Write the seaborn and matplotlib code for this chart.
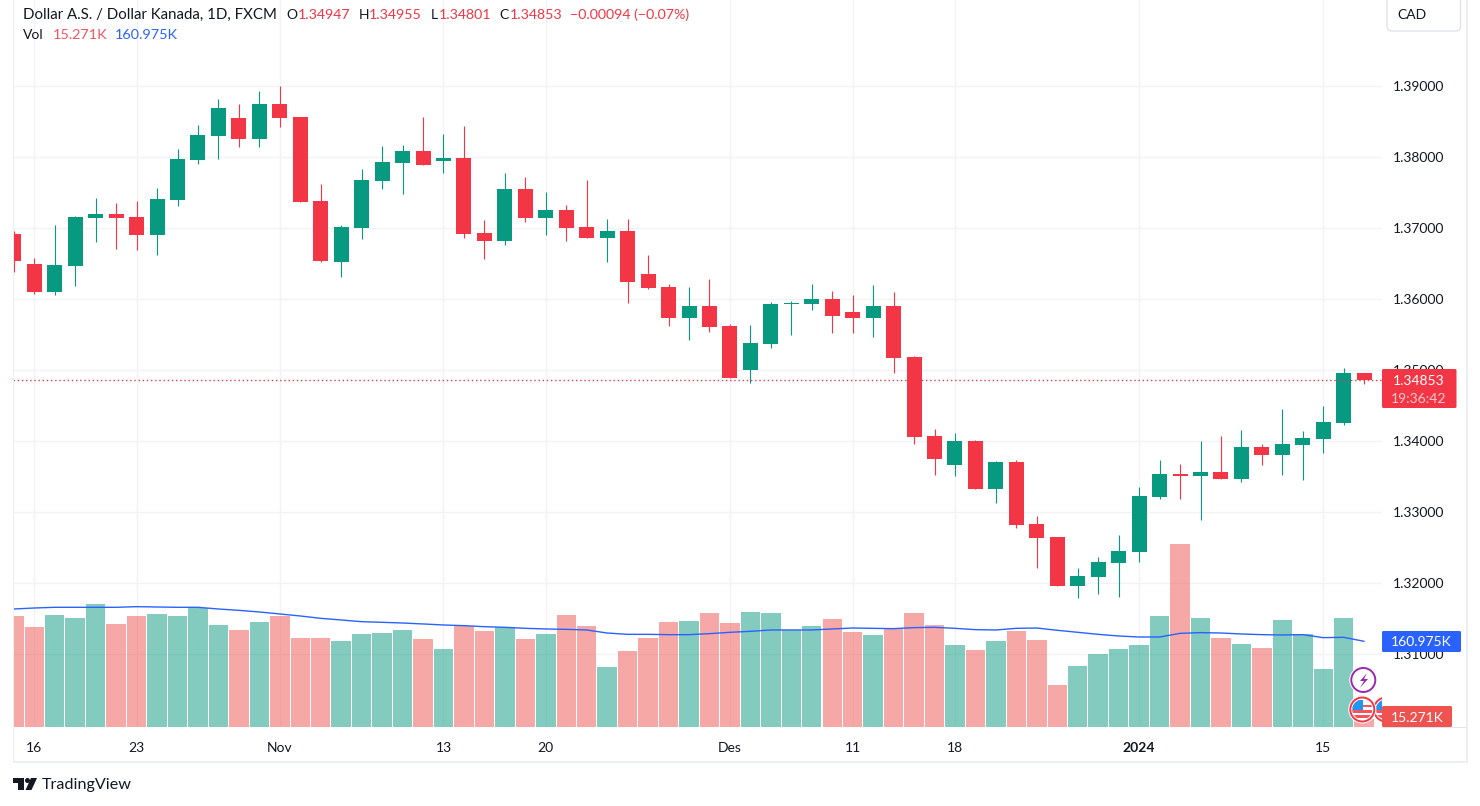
import matplotlib
matplotlib.use("Agg")
import matplotlib.pyplot as plt
from matplotlib.patches import Circle, FancyBboxPatch, Polygon, Rectangle
import pandas as pd
import seaborn as sns

# candles
opens = [1.36911,1.36488,1.36094,1.36460,1.37136,1.37192,1.37150,1.36897,1.37390,1.37953,1.38291,1.38545,1.38249,1.38742,1.38559,1.37376,
         1.36516,1.36995,1.37657,1.37911,1.38080,1.37939,1.37981,1.36925,1.36812,1.37545,1.37136,1.37249,1.37009,1.36854,1.36953,1.36347,
         1.36163,1.35727,1.35892,1.35610,1.34991,1.35357,1.35920,1.35920,1.35991,1.35808,1.35723,1.35892,1.35174,1.34061,1.33653,1.33991,
         1.33314,1.33695,1.32821,1.32638,1.31948,1.32075,1.32272,1.32427,1.33202,1.33526,1.33498,1.33554,1.33455,1.33906,1.33793,1.33934,
         1.34019,1.34244,1.34947]
highs = [1.36953,1.36573,1.37038,1.37164,1.37418,1.37347,1.37376,1.37559,1.38108,1.38446,1.38812,1.38742,1.38925,1.38995,1.38559,1.37615,
         1.37038,1.37826,1.38150,1.38164,1.38559,1.38319,1.38432,1.37108,1.37770,1.37714,1.37502,1.37319,1.37671,1.37122,1.37122,1.36614,
         1.36206,1.36163,1.36272,1.35638,1.35624,1.35948,1.35962,1.36202,1.36103,1.36047,1.36188,1.36089,1.35188,1.34160,1.34103,1.34005,
         1.33709,1.33723,1.32934,1.32638,1.32202,1.32357,1.32667,1.33343,1.33723,1.33667,1.33991,1.34061,1.34145,1.33948,1.34441,1.34131,
         1.34484,1.35019,1.34955]
lows = [1.36380,1.36070,1.36056,1.36178,1.36798,1.36700,1.36685,1.36615,1.37305,1.37897,1.37967,1.38136,1.38136,1.38418,1.37361,1.36516,
        1.36305,1.36840,1.37545,1.37474,1.37883,1.37770,1.36854,1.36559,1.36756,1.37080,1.36897,1.36812,1.36854,1.36516,1.35942,1.36135,
        1.35614,1.35417,1.35526,1.34878,1.34807,1.35300,1.35484,1.35836,1.35512,1.35512,1.35455,1.34948,1.33948,1.33512,1.33498,1.33314,
        1.33117,1.32765,1.32202,1.31948,1.31779,1.31836,1.31793,1.32286,1.33174,1.33174,1.32878,1.33455,1.33413,1.33653,1.33512,1.33441,
        1.33822,1.34216,1.34801]
closes = [1.36535,1.36094,1.36474,1.37150,1.37192,1.37136,1.36897,1.37404,1.37967,1.38305,1.38685,1.38249,1.38742,1.38545,1.37361,1.36530,
          1.37009,1.37671,1.37925,1.38080,1.37883,1.37981,1.36911,1.36812,1.37545,1.37136,1.37249,1.36995,1.36854,1.36953,1.36234,1.36149,
          1.35727,1.35896,1.35596,1.34878,1.35371,1.35920,1.35934,1.35991,1.35751,1.35723,1.35892,1.35160,1.34047,1.33737,1.33991,1.33314,
          1.33695,1.32807,1.32624,1.31948,1.32089,1.32286,1.32441,1.33216,1.33526,1.33498,1.33554,1.33455,1.33906,1.33793,1.33948,1.34033,
          1.34258,1.34948,1.34853]

# volume in thousands
volumes = [208.6,187.9,210.5,204.8,231.1,193.6,208.6,212.4,208.6,223.6,191.7,182.3,197.3,208.6,167.2,167.2,161.6,174.8,176.6,182.3,165.4,146.6,
           189.8,180.4,187.9,165.4,174.8,210.5,189.8,112.8,142.8,167.2,197.3,199.2,214.2,195.4,216.1,214.2,182.3,189.8,203.0,178.5,172.9,184.2,
           214.2,191.7,154.1,144.7,161.6,180.4,163.5,78.9,114.6,137.2,146.6,154.1,208.6,343.9,204.8,167.2,156.0,148.5,201.1,174.8,109.0,204.8,15.271]
vol_ma = [221.7,223.6,224.9,224.9,224.9,224.9,226.1,225.5,224.9,224.9,221.7,219.2,216.1,212.4,208.6,204.2,201.1,197.9,196.7,195.4,193.6,191.7,
          190.4,188.5,187.3,185.4,184.2,183.5,182.3,176.6,174.1,174.1,173.5,173.5,175.4,177.9,179.8,182.3,182.3,182.3,184.2,186.0,185.4,184.8,
          186.7,187.3,185.4,182.9,182.3,185.4,186.0,181.7,177.9,174.1,171.0,169.1,169.1,176.0,177.3,176.6,174.8,173.5,172.9,173.5,167.9,168.5,160.975]

price_ticks = [1.31, 1.32, 1.33, 1.34, 1.35, 1.36, 1.37, 1.38, 1.39]
date_bars = [1, 6, 13, 21, 26, 35, 41, 46, 55, 64]
date_labels = ["16", "23", "Nov", "13", "20", "Des", "11", "18", "2024", "15"]

GREEN = "#089981"
RED = "#f23645"
BLUE = "#2962ff"
INK = "#131722"
GRID = "#f2f3f6"

sns.set_theme(style="white")
plt.rcParams["font.family"] = ["Lato", "DejaVu Sans"]

bars = list(range(len(opens)))
df = pd.DataFrame({"bar": bars, "open": opens, "high": highs, "low": lows, "close": closes,
                   "volume": volumes, "ma": vol_ma})
df["side"] = ["up" if c > o else "down" for o, c in zip(opens, closes)]
candle_colors = df["side"].map({"up": GREEN, "down": RED}).tolist()

fig = plt.figure(figsize=(14.8, 8.06), dpi=100, facecolor="white")
W, H = 1480, 806
ax = fig.add_axes([13 / W, 1 - 727 / H, (1382 - 13) / W, 727 / H])

ax.vlines(df["bar"], df["low"], df["high"], colors=candle_colors, linewidth=0.8, zorder=3)
ax.bar(df["bar"], abs(df["close"] - df["open"]), bottom=df[["open", "close"]].min(axis=1),
       width=0.733, color=candle_colors, linewidth=0, zorder=4)
ax.axhline(closes[-1], color=RED, linewidth=1, linestyle=(0, (1, 2)), zorder=5)

ax.set_ylim(1.299662, 1.402056)
ax.grid(True, color=GRID, linewidth=1)
ax.set_axisbelow(True)
sns.despine(ax=ax, left=True, right=True, top=True, bottom=True)

ax2 = ax.twinx()
sns.barplot(data=df, x="bar", y="volume", hue="side", native_scale=True, dodge=False,
            palette={"up": GREEN, "down": "#ef5350"}, alpha=0.5, saturation=1, width=0.95,
            linewidth=0, legend=False, ax=ax2)
sns.lineplot(data=df, x="bar", y="ma", color=BLUE, linewidth=1, errorbar=None, ax=ax2)
ax2.set_ylim(0, 1366)
ax2.set_yticks([])
ax2.set_ylabel("")
ax2.patch.set_visible(False)
sns.despine(ax=ax2, left=True, right=True, top=True, bottom=True)

# twinx moves the price ticks back to the left
ax.set_yticks(price_ticks)
ax.set_yticklabels([f"{p:.5f}" for p in price_ticks])
ax.yaxis.tick_right()
ax.tick_params(axis="y", length=0, pad=8, labelsize=10, labelcolor=INK)
ax.tick_params(axis="x", length=0, pad=11, labelsize=10, labelcolor=INK)

ax.set_xlim(-0.04, 66.87)
ax.set_xticks(date_bars)
ax.set_xticklabels(date_labels)
ax.set_xlabel("")
for lab in ax.get_xticklabels():
    if lab.get_text() == "2024":
        lab.set_fontweight("bold")

# everything around the plot, in screen pixels
ui = fig.add_axes([0, 0, 1, 1], zorder=10)
ui.set_xlim(0, W)
ui.set_ylim(H, 0)
ui.axis("off")

# frame
ui.add_patch(Rectangle((12.5, -2), 1.5, 764, color="#eceef4", lw=0))
ui.add_patch(Rectangle((1466, -2), 2, 764, color="#eceef4", lw=0))
ui.add_patch(Rectangle((12.5, 761), 1455.5, 2, color="#eceef4", lw=0))
ui.add_patch(Rectangle((1382, 727), 84, 1, color="#e0e3eb", lw=0))

# header
def label(x, y, s, color=INK, size=10, **kw):
    ui.text(x, y, s, color=color, fontsize=size, va="center", ha=kw.pop("ha", "left"), **kw)

label(23, 15, "Dollar A.S. / Dollar Kanada, 1D, FXCM", size=10.85)
for x, s in [(286.5, "O"), (358.5, "H"), (430.5, "L"), (499.5, "C")]:
    label(x, 15, s)
for x, s in [(297.5, "1.34947"), (368.5, "1.34955"), (438.5, "1.34801"), (509.5, "1.34853"),
             (570.5, "\u22120.00094 (\u22120.07%)")]:
    label(x, 15, s, color=RED, size=10.2)
label(23, 35, "Vol")
label(53, 35, "15.271K", color="#f7525f", size=10.4)
label(115, 35, "160.975K", color=BLUE, size=10.4)

# currency button
ui.add_patch(FancyBboxPatch((1387, -4), 73.5, 35, boxstyle="round,pad=0,rounding_size=5",
                            fc="white", ec="#e0e3eb", lw=1))
label(1411.5, 15, "CAD", ha="center")

# event icons, cut off where the price scale starts
pane = Rectangle((0, 0), 1382, H, transform=ui.transData)
ui.add_patch(Circle((1363.3, 680), 14, fc="white", ec="none"))
ui.add_patch(Circle((1363.3, 680), 12, fc="white", ec="#9c27b0", lw=1.4))
ui.add_patch(Polygon([[1367, 673], [1360, 681], [1364, 681], [1360, 688], [1368, 679], [1364, 679]],
                     color="#9c27b0", lw=0))
for cx in (1386, 1362.3):
    ring = ui.add_patch(Circle((cx, 709.5), 14, fc="white", ec="none"))
    ring.set_clip_path(pane)
    ring = ui.add_patch(Circle((cx, 709.5), 12, fc="white", ec=RED, lw=1.4))
    ring.set_clip_path(pane)
    inner = Circle((cx, 709.5), 10, transform=ui.transData)
    for sy, sh in [(704.5, 2.5), (709.5, 3), (715, 3)]:
        stripe = ui.add_patch(Rectangle((cx - 10, sy), min(20, 1382 - (cx - 10)), sh, color="#f7525f", lw=0))
        stripe.set_clip_path(inner)
    canton = ui.add_patch(Rectangle((cx - 10, 699.5), min(11, 1382 - (cx - 10)), 10.5, color="#2196f3", lw=0))
    canton.set_clip_path(inner)

# price tags
ui.add_patch(FancyBboxPatch((1382, 369), 74.5, 39, boxstyle="round,pad=0,rounding_size=1.5", fc=RED, ec="none"))
label(1419, 381, "1.34853", color="white", ha="center")
label(1419, 399, "19:36:42", color="#fcc9cd", ha="center")
ui.add_patch(FancyBboxPatch((1382, 631), 79, 21, boxstyle="round,pad=0,rounding_size=1.5", fc=BLUE, ec="none"))
label(1421.5, 642.5, "160.975K", color="white", ha="center")
ui.add_patch(FancyBboxPatch((1382, 706), 70, 21, boxstyle="round,pad=0,rounding_size=1.5", fc="#ef5350", ec="none"))
label(1417, 717.5, "15.271K", color="white", ha="center")

# logo
ui.add_patch(Polygon([[13, 778], [24, 778], [24, 790], [18, 790], [18, 783], [13, 783]], color=INK, lw=0))
ui.add_patch(Circle((27.5, 780.5), 2.5, color=INK, lw=0))
ui.add_patch(Polygon([[31, 778], [37, 778], [31.5, 790], [25.5, 790]], color=INK, lw=0))
label(42, 785, "TradingView", size=11.6)

fig.savefig("out.png", dpi=100)
